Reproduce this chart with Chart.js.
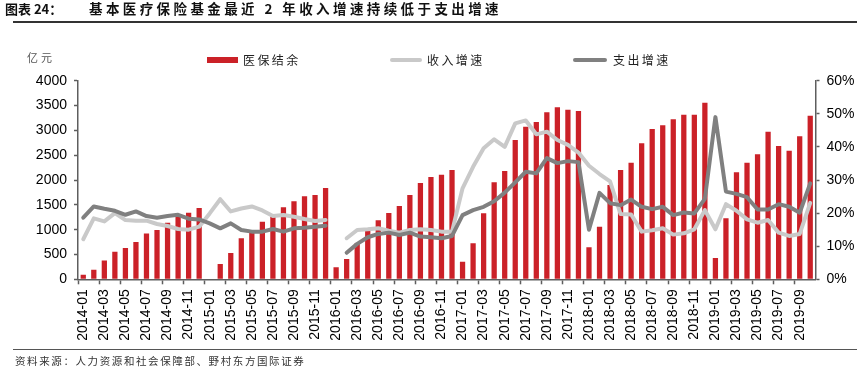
<!DOCTYPE html>
<html>
<head>
<meta charset="utf-8">
<script src="https://cdn.jsdelivr.net/npm/chart.js@4.4.1/dist/chart.umd.min.js"></script>
<style>
  html, body { margin: 0; padding: 0; background: #fff; }
  #wrap { position: relative; width: 857px; height: 379px; overflow: hidden; background: #fff; }
  #chartBox { position: absolute; left: 0; top: 0; width: 857px; height: 379px; }
  .t { position: absolute; white-space: nowrap; font-family: "Noto Sans CJK SC", "Noto Sans", sans-serif; line-height: 1; }
  .rule { position: absolute; left: 13px; right: 0; }
  .sym { position: absolute; }
</style>
</head>
<body>
<div id="wrap">
  <div id="chartBox"><canvas id="c"></canvas></div>
  <div class="t" id="title1" style="left:5px; top:2px; font-size:13px; font-weight:bold; color:#111;">图表 24：</div>
  <div class="t" id="title2" style="left:89px; top:2px; font-size:13.5px; font-weight:bold; letter-spacing:3.4px; color:#111;">基本医疗保险基金最近 2 年收入增速持续低于支出增速</div>
  <div class="rule" style="top:21px; height:1.6px; background:#333;"></div>
  <div class="t" style="left:27px; top:51.5px; font-size:11px; letter-spacing:3px; color:#555;">亿元</div>
  <div class="sym" id="leg0" style="left:207px; top:56.7px; width:31px; height:6.6px;"></div>
  <div class="t" id="legt0" style="left:243px; top:54.3px; font-size:12px; letter-spacing:2.4px; color:#222;"></div>
  <div class="sym" id="leg1" style="left:390px; top:57.5px; width:32px; height:4.2px; border-radius:2px;"></div>
  <div class="t" id="legt1" style="left:427px; top:54.3px; font-size:12px; letter-spacing:2.4px; color:#222;"></div>
  <div class="sym" id="leg2" style="left:573px; top:57.8px; width:34px; height:4.2px; border-radius:2px;"></div>
  <div class="t" id="legt2" style="left:613px; top:54.3px; font-size:12px; letter-spacing:2.4px; color:#222;"></div>
  <div class="rule" style="top:348.5px; height:1.6px; background:#555;"></div>
  <div class="t" style="left:15px; top:355.5px; font-size:10.5px; letter-spacing:1.6px; color:#333;">资料来源：人力资源和社会保障部、野村东方国际证券</div>
</div>
<script>
// ---- data ----
const months = [
  '2014-01','2014-02','2014-03','2014-04','2014-05','2014-06','2014-07','2014-08','2014-09','2014-10','2014-11','2014-12',
  '2015-01','2015-02','2015-03','2015-04','2015-05','2015-06','2015-07','2015-08','2015-09','2015-10','2015-11','2015-12',
  '2016-01','2016-02','2016-03','2016-04','2016-05','2016-06','2016-07','2016-08','2016-09','2016-10','2016-11','2016-12',
  '2017-01','2017-02','2017-03','2017-04','2017-05','2017-06','2017-07','2017-08','2017-09','2017-10','2017-11','2017-12',
  '2018-01','2018-02','2018-03','2018-04','2018-05','2018-06','2018-07','2018-08','2018-09','2018-10','2018-11','2018-12',
  '2019-01','2019-02','2019-03','2019-04','2019-05','2019-06','2019-07','2019-08','2019-09','2019-10'
];

// 医保结余 (亿元)
const balance = [
  90, 190, 380, 556, 630, 750, 920, 993, 1140, 1268, 1342, 1436,
  null, 308, 530, 826, 950, 1160, 1261, 1450, 1571, 1671, 1698, 1839,
  242, 409, 725, 993, 1188, 1335, 1476, 1698, 1939, 2060, 2107, 2201,
  355, 725, 1329, 1953, 2181, 2805, 3074, 3168, 3363, 3464, 3416, 3390,
  644, 1060, 1899, 2201, 2349, 2739, 3027, 3101, 3222, 3316, 3316, 3557,
  430, 1228, 2155, 2349, 2518, 2973, 2685, 2590, 2880, 3295
];

// 收入增速 (%)
const incomeGrowth = [
  12.1, 18.4, 17.5, 20.0, 17.9, 17.7, 17.7, 16.7, 16.1, 15.2, 15.0, 15.9,
  19.9, 24.2, 20.5, 21.4, 22.0, 20.8, 19.1, 19.4, 18.9, 18.2, 17.6, 17.9,
  null, 12.4, 14.9, 15.1, 15.4, 14.7, 14.1, 14.9, 15.1, 14.9, 14.4, 14.4,
  27.5, 34.0, 39.6, 42.3, 40.0, 47.1, 48.0, 43.8, 44.6, 42.1, 40.6, 38.3,
  34.3, 31.8, 29.6, 19.7, 19.6, 14.4, 14.8, 15.4, 13.5, 13.9, 15.1, 20.9,
  15.1, 22.7, 20.7, 18.1, 17.1, 17.9, 14.1, 13.1, 13.7, 23.1
];

// 支出增速 (%)
const expenseGrowth = [
  18.6, 22.0, 21.3, 20.7, 19.5, 20.5, 19.1, 18.6, 19.1, 19.5, 18.3, 18.1,
  16.9, 15.4, 16.9, 14.9, 14.4, 14.4, 15.2, 14.4, 15.4, 15.6, 15.9, 16.2,
  null, 8.0, 10.7, 12.7, 13.7, 14.1, 13.4, 14.1, 12.9, 12.7, 12.4, 13.1,
  19.4, 20.9, 21.9, 23.6, 26.2, 29.3, 32.5, 32.0, 36.6, 35.1, 35.7, 35.4,
  15.0, 26.1, 23.0, 22.4, 24.1, 21.9, 21.2, 21.9, 19.4, 20.2, 19.9, 24.3,
  49.0, 26.5, 25.8, 24.8, 21.1, 21.1, 22.7, 21.9, 20.1, 29.0
];

const leftTicks = [0, 500, 1000, 1500, 2000, 2500, 3000, 3500, 4000];
const rightTicks = [0, 10, 20, 30, 40, 50, 60];
const seriesNames = ['医保结余', '收入增速', '支出增速'];

// ---- styles ----
const RED = '#CB2128';
const LIGHT = '#C9C9C9';
const DARK = '#808080';
const AXIS = '#5E5E5E';
const TICKFONT = { family: '"Liberation Sans", Arial, sans-serif', size: 14 };

// legend (HTML)
document.getElementById('leg0').style.background = RED;
document.getElementById('leg1').style.background = LIGHT;
document.getElementById('leg2').style.background = DARK;
document.getElementById('legt0').textContent = seriesNames[0];
document.getElementById('legt1').textContent = seriesNames[1];
document.getElementById('legt2').textContent = seriesNames[2];

const ctx = document.getElementById('c').getContext('2d');
new Chart(ctx, {
  data: {
    labels: months,
    datasets: [
      {
        type: 'line', label: seriesNames[2], data: expenseGrowth, yAxisID: 'y1',
        borderColor: DARK, backgroundColor: DARK, borderWidth: 4, pointRadius: 0,
        tension: 0, spanGaps: false, borderJoinStyle: 'round', borderCapStyle: 'round', order: 0
      },
      {
        type: 'line', label: seriesNames[1], data: incomeGrowth, yAxisID: 'y1',
        borderColor: LIGHT, backgroundColor: LIGHT, borderWidth: 4, pointRadius: 0,
        tension: 0, spanGaps: false, borderJoinStyle: 'round', borderCapStyle: 'round', order: 1
      },
      {
        type: 'bar', label: seriesNames[0], data: balance, yAxisID: 'y',
        backgroundColor: RED, borderWidth: 0, categoryPercentage: 1.0, barPercentage: 0.5, order: 2
      }
    ]
  },
  options: {
    responsive: true,
    maintainAspectRatio: false,
    animation: false,
    devicePixelRatio: 1,
    layout: { padding: { top: 80.7, left: 0, right: 0, bottom: 0 } },
    plugins: { legend: { display: false }, tooltip: { enabled: false }, title: { display: false } },
    scales: {
      x: {
        type: 'category',
        offset: true,
        grid: {
          offset: true, drawOnChartArea: false, drawTicks: true, tickLength: 5, tickWidth: 1.5,
          tickColor: (c) => (c.index % 2 === 0 ? AXIS : 'rgba(0,0,0,0)')
        },
        border: { display: true, color: AXIS, width: 1.5 },
        ticks: {
          autoSkip: false, minRotation: 90, maxRotation: 90, padding: 5, color: '#000', font: TICKFONT,
          callback: (v, i) => (i % 2 === 0 ? months[i] : '')
        },
        afterFit: (s) => { s.height = 379 - 279.3; }
      },
      y: {
        position: 'left', min: leftTicks[0], max: leftTicks[leftTicks.length - 1],
        afterBuildTicks: (s) => { s.ticks = leftTicks.map(v => ({ value: v })); },
        grid: { drawOnChartArea: false, drawTicks: true, tickLength: 4, tickWidth: 1.5, tickColor: AXIS },
        border: { display: true, color: AXIS, width: 1.5 },
        ticks: { padding: 7, color: '#000', font: TICKFONT, callback: (v) => String(v) },
        afterFit: (s) => { s.width = 78; }
      },
      y1: {
        position: 'right', min: rightTicks[0], max: rightTicks[rightTicks.length - 1],
        afterBuildTicks: (s) => { s.ticks = rightTicks.map(v => ({ value: v })); },
        grid: { drawOnChartArea: false, drawTicks: true, tickLength: 4, tickWidth: 1.5, tickColor: AXIS },
        border: { display: true, color: AXIS, width: 1.5 },
        ticks: { padding: 7, color: '#000', font: TICKFONT, callback: (v) => v + '%' },
        afterFit: (s) => { s.width = 857 - 815.5; }
      }
    }
  }
});
</script>
</body>
</html>
